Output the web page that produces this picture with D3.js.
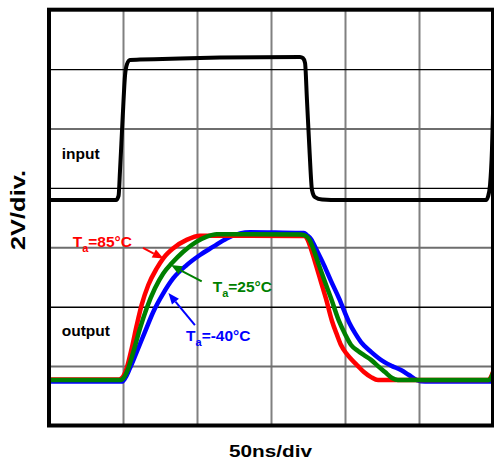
<!DOCTYPE html>
<html>
<head>
<meta charset="utf-8">
<script src="https://cdn.jsdelivr.net/npm/d3@7"></script>
<style>
  html, body { margin: 0; padding: 0; background: #fff; }
  svg { display: block; }
  text { font-family: "Liberation Sans", Arial, Helvetica, sans-serif; font-weight: bold; }
</style>
</head>
<body>
<svg id="chart" width="494" height="463"></svg>
<script>
// Scope screen: 50 ns/div horizontally (6 div), 2 V/div vertically (7 div).
// Traces are given as [time ns, screen volts] with the channel offsets included.
const timeDomain = [0, 300];
const voltDomain = [0, 14];
const gridTimes = [50, 100, 150, 200, 250];
const gridVolts = [2, 4, 6, 8, 10, 12];

const inputTrace = [
  [0, 7.59], [45.3, 7.59], [47.0, 7.73], [48.0, 8.60], [49.7, 10.29], [51.4, 11.80],
  [52.7, 12.17], [54.7, 12.31], [61.5, 12.32], [88.5, 12.36], [115.5, 12.39],
  [169.6, 12.41], [171.6, 12.37], [173.0, 12.21], [174.3, 10.96], [176.0, 9.28],
  [177.7, 7.93], [179.7, 7.69], [184.5, 7.61], [196.6, 7.59], [295.3, 7.59],
  [296.6, 7.70], [298.0, 8.10], [299.3, 9.28], [300, 10.5]
];

const outputMinus40 = [
  [0, 1.48], [49.3, 1.48], [51.4, 1.59], [54.7, 1.93], [59.3, 2.48], [64.9, 3.16],
  [70.5, 3.83], [77.2, 4.45], [84.0, 4.96], [93.0, 5.40], [102.0, 5.74], [111.0, 6.02],
  [120.1, 6.30], [129.1, 6.47], [135.8, 6.51], [169.6, 6.48], [172.3, 6.48],
  [174.3, 6.41], [177.0, 6.28], [181.1, 5.88], [185.8, 5.40], [190.5, 4.87],
  [195.9, 4.29], [202.7, 3.48], [206.8, 3.11], [210.8, 2.81], [217.6, 2.48],
  [226.4, 2.14], [231.8, 2.00], [237.8, 1.87], [243.2, 1.70], [248.6, 1.53],
  [254.1, 1.48], [300, 1.48]
];

const output85 = [
  [0, 1.55], [47.3, 1.55], [49.1, 1.59], [52.5, 1.93], [55.9, 2.60], [59.3, 3.38],
  [62.6, 4.06], [67.1, 4.73], [72.8, 5.29], [77.2, 5.63], [84.0, 5.97], [93.0, 6.25],
  [102.0, 6.39], [169.6, 6.38], [172.3, 6.38], [174.3, 6.30], [177.7, 5.84],
  [180.4, 5.40], [183.8, 4.83], [187.2, 4.26], [191.2, 3.52], [194.6, 3.05],
  [197.3, 2.71], [200.7, 2.44], [204.1, 2.24], [208.8, 2.00], [212.8, 1.80],
  [217.6, 1.63], [222.3, 1.53], [296.6, 1.53], [298.6, 1.63], [300, 1.80]
];

const output25 = [
  [0, 1.53], [48.5, 1.53], [50.2, 1.59], [53.6, 1.93], [57.0, 2.48], [61.5, 3.27],
  [66.0, 3.95], [71.6, 4.62], [77.2, 5.12], [82.9, 5.46], [90.7, 5.85], [99.8, 6.19],
  [106.6, 6.36], [113.3, 6.44], [169.6, 6.43], [172.3, 6.41], [175.7, 6.28],
  [179.1, 5.88], [182.4, 5.40], [186.5, 4.83], [190.5, 4.29], [195.9, 3.52],
  [200.0, 3.08], [204.1, 2.71], [208.8, 2.51], [212.8, 2.37], [217.6, 2.21],
  [222.3, 2.00], [227.0, 1.80], [231.8, 1.60], [235.8, 1.53], [297.3, 1.53],
  [299.3, 1.67], [300, 1.77]
];

// Temperature labels: text anchor and arrow (from, tip) in [ns, V]
const tempLabels = [
  { temp: "85", color: "#ff0000", at: [16.0, 6.02], from: [63.5, 5.98], tip: [77.4, 5.62] },
  { temp: "25", color: "#008000", at: [110.6, 4.51], from: [103.2, 4.85], tip: [82.4, 5.40] },
  { temp: "-40", color: "#0000ff", at: [92.6, 2.85], from: [98.6, 3.38], tip: [80.7, 4.46] }
];

const traceLabels = [
  { text: "input", at: [8.6, 8.96] },
  { text: "output", at: [8.6, 3.02] }
];

const xTitle = "50ns/div";
const yTitle = "2V/div.";

// ---- layout ----
const plot = { left: 49, top: 9.7, right: 493, bottom: 425.5 };
const svg = d3.select("#chart");

const x = d3.scaleLinear().domain(timeDomain).range([plot.left, plot.right]);
const y = d3.scaleLinear().domain(voltDomain).range([plot.bottom, plot.top]);

// vertical graticule
const gx = svg.append("g")
  .attr("transform", `translate(0,${plot.bottom})`)
  .call(d3.axisBottom(x).tickValues(gridTimes).tickFormat("").tickSize(-(plot.bottom - plot.top)).tickSizeOuter(0));
gx.select(".domain").remove();
gx.selectAll(".tick line").attr("stroke", "#808080").attr("stroke-width", 2);

// horizontal graticule
const gy = svg.append("g")
  .attr("transform", `translate(${plot.left},0)`)
  .call(d3.axisLeft(y).tickValues(gridVolts).tickFormat("").tickSize(-(plot.right - plot.left)).tickSizeOuter(0));
gy.select(".domain").remove();
gy.selectAll(".tick line")
  .attr("stroke", d => (d % 4 === 0 ? "#000" : "#6e6e6e"))
  .attr("stroke-width", d => (d % 4 === 0 ? 1.4 : 2));

// traces
const line = d3.line().x(d => x(d[0])).y(d => y(d[1])).curve(d3.curveMonotoneX);
const traces = [
  { data: inputTrace, color: "#000", width: 4 },
  { data: outputMinus40, color: "#0000ff", width: 4.5 },
  { data: output85, color: "#ff0000", width: 4.5 },
  { data: output25, color: "#008000", width: 4.5 }
];
svg.append("g").selectAll("path").data(traces).join("path")
  .attr("d", d => line(d.data))
  .attr("fill", "none")
  .attr("stroke", d => d.color)
  .attr("stroke-width", d => d.width)
  .attr("stroke-linejoin", "round");

// frame
svg.append("rect")
  .attr("x", plot.left).attr("y", plot.top)
  .attr("width", plot.right - plot.left).attr("height", plot.bottom - plot.top)
  .attr("fill", "none").attr("stroke", "#000").attr("stroke-width", 4);

// trace labels
svg.append("g").selectAll("text").data(traceLabels).join("text")
  .attr("x", d => x(d.at[0])).attr("y", d => y(d.at[1]))
  .attr("font-size", 15.5).attr("fill", "#000")
  .text(d => d.text);

// temperature annotations
const ann = svg.append("g").selectAll("g").data(tempLabels).join("g");
ann.each(function (d) {
  const g = d3.select(this);
  const x0 = x(d.from[0]), y0 = y(d.from[1]), x1 = x(d.tip[0]), y1 = y(d.tip[1]);
  const ang = Math.atan2(y1 - y0, x1 - x0);
  const headLen = 11, headHalf = 4.5;
  const bx = x1 - headLen * Math.cos(ang), by = y1 - headLen * Math.sin(ang);
  g.append("line")
    .attr("x1", x0).attr("y1", y0).attr("x2", bx).attr("y2", by)
    .attr("stroke", d.color).attr("stroke-width", 2);
  const px = -Math.sin(ang), py = Math.cos(ang);
  g.append("path")
    .attr("d", `M${x1},${y1}L${bx + px * headHalf},${by + py * headHalf}L${bx - px * headHalf},${by - py * headHalf}Z`)
    .attr("fill", d.color);
  const t = g.append("text")
    .attr("x", x(d.at[0])).attr("y", y(d.at[1]))
    .attr("fill", d.color).attr("font-size", 15.5);
  t.append("tspan").text("T");
  t.append("tspan").attr("font-size", 11).attr("dy", 5).text("a");
  t.append("tspan").attr("dy", -5).text(`=${d.temp}°C`);
});

// axis titles
svg.append("text")
  .attr("x", (plot.left + plot.right) / 2 - 0.5).attr("y", 457.3)
  .attr("text-anchor", "middle").attr("font-size", 16.5)
  .attr("textLength", 83).attr("lengthAdjust", "spacingAndGlyphs")
  .text(xTitle);

svg.append("text")
  .attr("transform", "translate(25,210) rotate(-90)")
  .attr("text-anchor", "middle").attr("font-size", 20.5)
  .attr("textLength", 80).attr("lengthAdjust", "spacingAndGlyphs")
  .text(yTitle);
</script>
</body>
</html>
